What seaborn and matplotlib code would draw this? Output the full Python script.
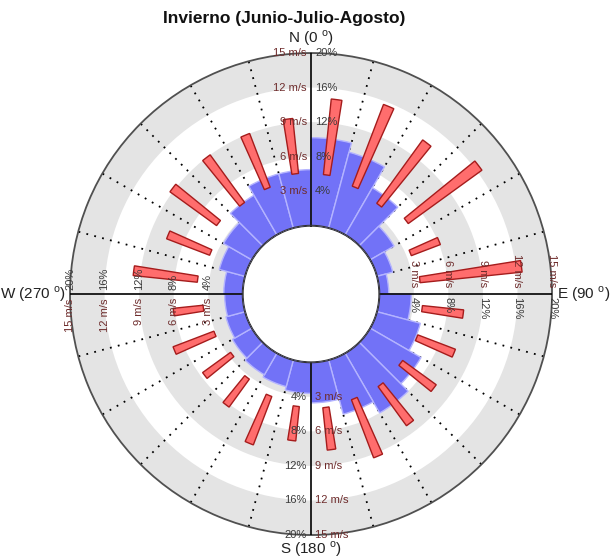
import numpy as np
import pandas as pd
import seaborn as sns
import matplotlib
matplotlib.use("Agg")
import matplotlib.pyplot as plt
from matplotlib.transforms import offset_copy

sns.set_theme(style="white")
plt.rcParams['font.family'] = ['Liberation Sans', 'DejaVu Sans']

# ---------------- data ----------------
title = "Invierno (Junio-Julio-Agosto)"
directions = list(np.arange(7.5, 360, 15))          # sector centres (deg)
freq = [10.2, 9.1, 6.3, 3.2, 1.9, 1.1, 3.7, 5.2, 6.8, 8.0, 6.5, 4.7,
        3.6, 3.2, 2.9, 2.6, 2.3, 2.1, 2.2, 3.1, 3.8, 5.3, 6.5, 6.5]   # %
speed_low = [4.5, 4.1, 3.8, 4.5, 3.4, 3.6, 3.8, 4.0, 3.9, 4.0, 3.9, 4.0,
             3.9, 3.6, 3.2, 2.7, 3.1, 3.5, 4.0, 3.5, 4.2, 3.9, 4.0, 4.6]  # m/s
speed_high = [11.1, 11.7, 10.6, 12.4, 6.1, 12.5, 7.4, 7.5, 7.5, 8.2, 9.3, 7.7,
              6.9, 8.1, 6.2, 5.7, 6.9, 6.1, 9.6, 7.5, 9.2, 9.0, 9.0, 9.4]  # m/s
pct_ticks = [4, 8, 12, 16, 20]
speed_ticks = [3, 6, 9, 12, 15]
cardinals = [(0, "N (0 $^\\mathregular{o}$)"), (90, "E (90 $^\\mathregular{o}$)"),
             (180, "S (180 $^\\mathregular{o}$)"), (270, "W (270 $^\\mathregular{o}$)")]

df = pd.DataFrame({"dir": directions, "freq": freq,
                   "vlo": speed_low, "vhi": speed_high})
scale = pct_ticks[-1] / speed_ticks[-1]   # m/s -> % radial scale
df["theta"] = np.deg2rad(df["dir"])
df["plo"] = df["vlo"] * scale
df["phi"] = (df["vhi"] - df["vlo"]) * scale

# ---------------- figure ----------------
fig = plt.figure(figsize=(6.12, 5.6), dpi=100)
ax = fig.add_axes([0.1144, 0.0446, 0.7876, 0.8607], projection='polar')
ax.set_theta_zero_location('N')
ax.set_theta_direction(-1)
ax.set_ylim(0, pct_ticks[-1])
ax.set_rorigin(-7.9)
ax.grid(False)
ax.set_xticks([])
ax.set_yticks([])
ax.set_facecolor('white')
ax.spines['polar'].set_color('#505050')
ax.spines['polar'].set_linewidth(1.3)
for s in ['inner', 'start', 'end']:
    if s in ax.spines:
        ax.spines[s].set_visible(False)

# alternating background rings
for i in range(0, len(pct_ticks) + 1, 2):
    lo = 0 if i == 0 else pct_ticks[i - 1]
    hi = pct_ticks[i] if i < len(pct_ticks) else pct_ticks[-1]
    ax.bar(0, hi - lo, width=2 * np.pi, bottom=lo, color='#e4e4e4',
           linewidth=0, zorder=1)

# dotted radial grid
for a in np.arange(0, 360, 15):
    if a % 90:
        ax.plot([np.deg2rad(a)] * 2, [0, pct_ticks[-1]], color='black',
                linestyle=(0, (1, 3.5)), linewidth=1.3, zorder=2)

# frequency sectors
ax.bar(df["theta"], df["freq"], width=np.deg2rad(15), bottom=0,
       color='#7272f7', edgecolor='#b4b4ff', linewidth=1.0, zorder=3)

# speed bars
ax.bar(df["theta"], df["phi"], width=0.055, bottom=df["plo"],
       color='#ff6d6d', edgecolor='#a51c1c', linewidth=1.0, zorder=4)

# cardinal axes
for a, _ in cardinals:
    ax.plot([np.deg2rad(a)] * 2, [0, pct_ticks[-1]], color='black',
            linewidth=1.2, zorder=5)
th = np.linspace(0, 2 * np.pi, 400)
ax.plot(th, np.zeros_like(th), color='#303030', linewidth=1.5, zorder=5)

# tick labels
mcol = '#6e2c2c'
pcol = '#3a3a3a'
fs = 8


def lab(theta, r, txt, dx, dy, ha, va, rot, col):
    tr = offset_copy(ax.transData, fig=fig, x=dx, y=dy, units='points')
    ax.text(theta, r, txt, transform=tr, ha=ha, va=va, rotation=rot,
            fontsize=fs, color=col, zorder=6, clip_on=False)


for p, v in zip(pct_ticks, speed_ticks):
    ms = f"{v} m/s"
    pc = f"{p}%"
    # North
    lab(0, p, ms, -3, 0, 'right', 'center', 0, mcol)
    lab(0, p, pc, 3, 0, 'left', 'center', 0, pcol)
    # East
    lab(np.pi / 2, p, ms, 0, 5, 'center', 'bottom', -90, mcol)
    lab(np.pi / 2, p, pc, 0, -2, 'center', 'top', -90, pcol)
    # South
    lab(np.pi, p, pc, -3, 0, 'right', 'center', 0, pcol)
    lab(np.pi, p, ms, 3, 0, 'left', 'center', 0, mcol)
    # West
    lab(1.5 * np.pi, p, pc, 0, 3, 'center', 'bottom', 90, pcol)
    lab(1.5 * np.pi, p, ms, 0, -3, 'center', 'top', 90, mcol)

# cardinal labels
cfs = 11
ax.text(0, 21.7, cardinals[0][1], ha='center', va='center', fontsize=cfs,
        color='#222222', clip_on=False)
ax.text(np.pi / 2, 20.6, cardinals[1][1], ha='left', va='center', fontsize=cfs,
        color='#222222', clip_on=False)
ax.text(np.pi, 21.6, cardinals[2][1], ha='center', va='center', fontsize=cfs,
        color='#222222', clip_on=False)
ax.text(1.5 * np.pi, 20.5, cardinals[3][1], ha='right', va='center', fontsize=cfs,
        color='#222222', clip_on=False)

fig.text(0.464, 0.967, title, ha='center', va='center', fontsize=12.5,
         fontweight='bold', color='#111111')

fig.savefig("out.png", dpi=100, facecolor='white')
